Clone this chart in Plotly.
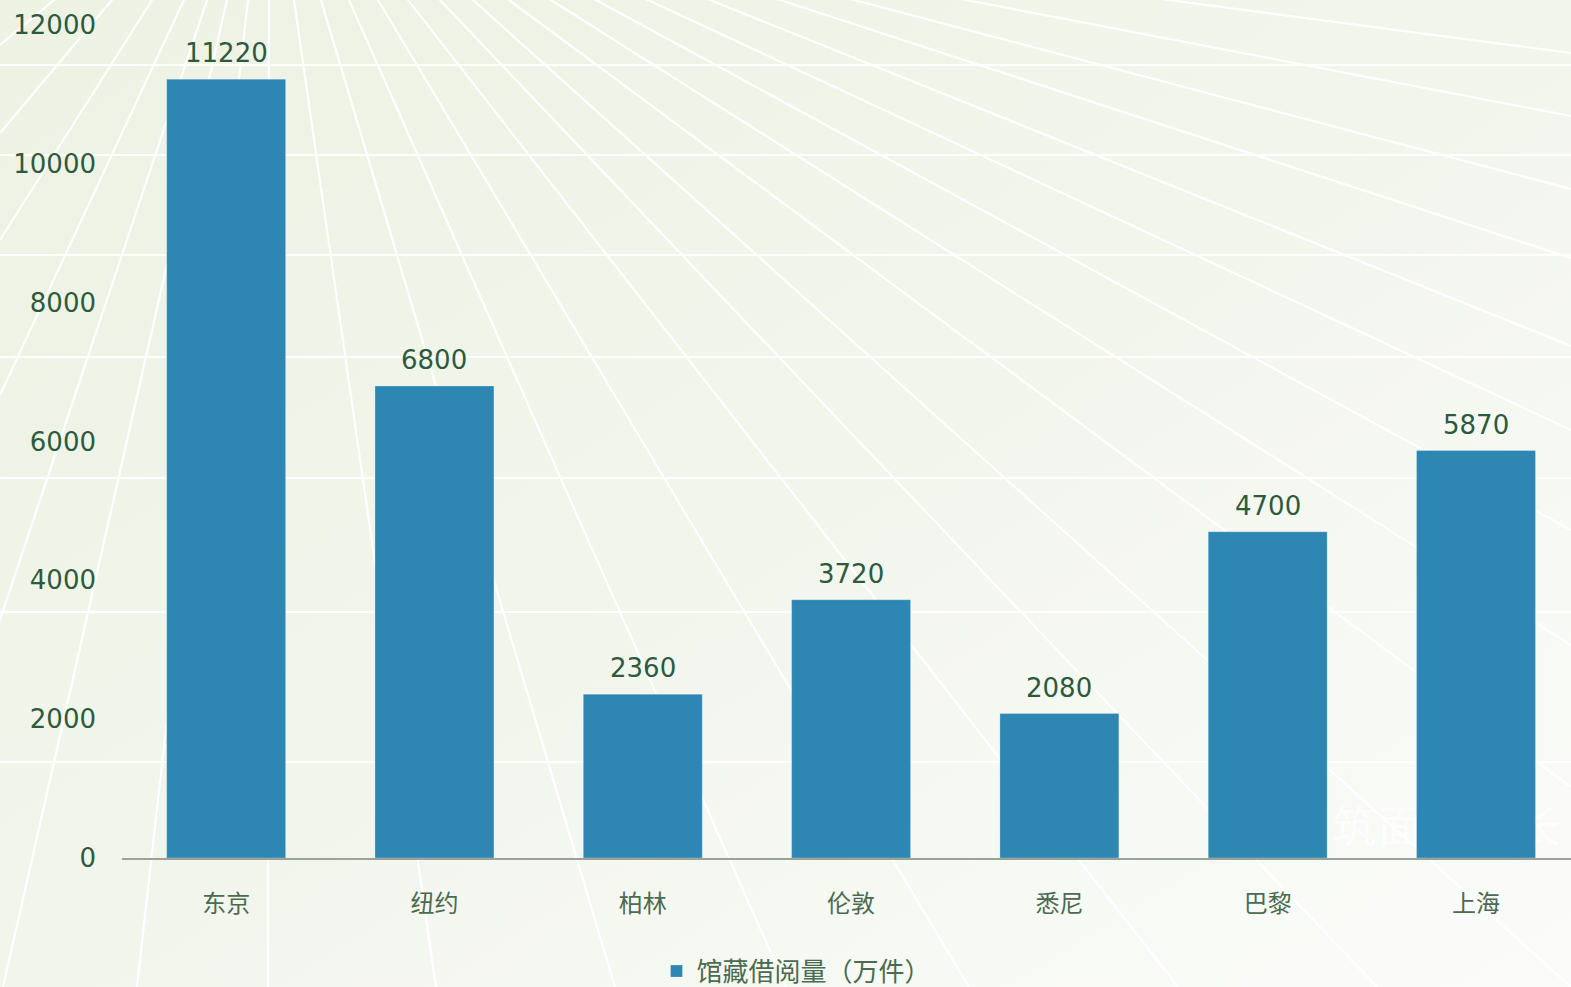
import base64
import plotly.graph_objects as go

# ---------------- data ----------------
cities = ["东京", "纽约", "柏林", "伦敦", "悉尼", "巴黎", "上海"]
loans = [11220, 6800, 2360, 3720, 2080, 4700, 5870]
y_ticks = [0, 2000, 4000, 6000, 8000, 10000, 12000]
series_name = "馆藏借阅量（万件）"
watermark = "建筑面积增长"

# ---------------- layout constants ----------------
W, H = 1571, 987
L, R, T, B = 122, 0, 25, 129
PW, PH = W - L - R, H - T - B

BAR = "#2e86b3"
NUM_C = "#2d5a3d"
CAT_C = "#4a6b50"

# ---------------- decorative background (svg) ----------------
ray_top = [54, 112, 152, 184, 207,
           227, 248, 269, 294, 321, 349, 378, 408, 440, 473,
           509, 551, 596, 648, 710, 780, 854, 966, 1168]
ray_end = [(0, 45), (0, 133), (0, 240), (0, 395), (0, 620),
           (3, H), (137, H), (268, H), (436, H), (615, H), (786, H), (969, H), (1178, H), (1377, H), (W, H),
           (W, 787), (W, 645), (W, 530), (W, 430), (W, 346), (W, 258), (W, 189), (W, 116), (W, 53)]
h_lines = [65, 155, 255, 357, 478, 612, 762]

segs = []
for tx, (ex, ey) in zip(ray_top, ray_end):
    dx, dy = ex - tx, ey - 0
    x0 = tx - dx * 20 / dy
    segs.append(f'<line x1="{x0:.1f}" y1="-20" x2="{ex}" y2="{ey}"/>')
for y in h_lines:
    segs.append(f'<line x1="0" y1="{y}" x2="{W}" y2="{y}"/>')

svg = f'''<svg xmlns="http://www.w3.org/2000/svg" width="{W}" height="{H}" viewBox="0 0 {W} {H}">
<defs><linearGradient id="g" x1="0" y1="0" x2="1" y2="1">
<stop offset="0" stop-color="#edf2e3"/><stop offset="0.5" stop-color="#f2f5ec"/><stop offset="1" stop-color="#fbfcfa"/>
</linearGradient></defs>
<rect x="0" y="0" width="{W}" height="{H}" fill="url(#g)"/>
<g stroke="#ffffff" stroke-width="2.2" stroke-opacity="0.95" fill="none">{''.join(segs)}</g>
<text x="1286" y="843" font-family="Noto Sans CJK SC" font-size="44" letter-spacing="2" fill="#ffffff" fill-opacity="0.75">{watermark}</text>
</svg>'''
src = "data:image/svg+xml;base64," + base64.b64encode(svg.encode("utf-8")).decode("ascii")

fig = go.Figure()
fig.add_trace(go.Bar(
    x=cities, y=loans, name=series_name,
    marker=dict(color=BAR, line=dict(color="rgba(255,255,255,0.25)", width=1)),
    showlegend=True,
))

annotations = [
    dict(x=c, y=v, text=str(v), xref="x", yref="y", yanchor="bottom", showarrow=False,
         yshift=9, font=dict(family="DejaVu Sans", size=26, color=NUM_C))
    for c, v in zip(cities, loans)
]

fig.update_layout(
    width=W, height=H,
    margin=dict(l=L, r=R, t=T, b=B, pad=0),
    paper_bgcolor="#f1f5ea",
    plot_bgcolor="rgba(0,0,0,0)",
    bargap=0.429,
    images=[dict(source=src, xref="paper", yref="paper",
                 x=-L / PW, y=1 + T / PH, sizex=W / PW, sizey=H / PH,
                 xanchor="left", yanchor="top", sizing="stretch", layer="below")],
    annotations=annotations,
    showlegend=True,
    legend=dict(orientation="h", xref="container", yref="container",
                x=0.507, xanchor="center", y=0.016, yanchor="middle",
                font=dict(family="Noto Sans CJK SC", size=26, color=CAT_C),
                bgcolor="rgba(0,0,0,0)", itemclick=False),
    xaxis=dict(range=[-0.5, 6.456], showgrid=False, zeroline=False, showline=True,
               linecolor="#9aa39a", linewidth=2, ticks="", ticklabelstandoff=23,
               tickfont=dict(family="Noto Sans CJK SC", size=24, color=CAT_C)),
    yaxis=dict(range=[0, 12000], tickvals=y_ticks, ticktext=[str(t) for t in y_ticks],
               showgrid=False, zeroline=False, showline=False, ticks="",
               ticklabelstandoff=25,
               tickfont=dict(family="DejaVu Sans", size=26, color=NUM_C)),
)

fig.write_html("out.html", config={"displayModeBar": False},
               post_script="document.body.style.margin='0';document.body.style.overflow='hidden';")
